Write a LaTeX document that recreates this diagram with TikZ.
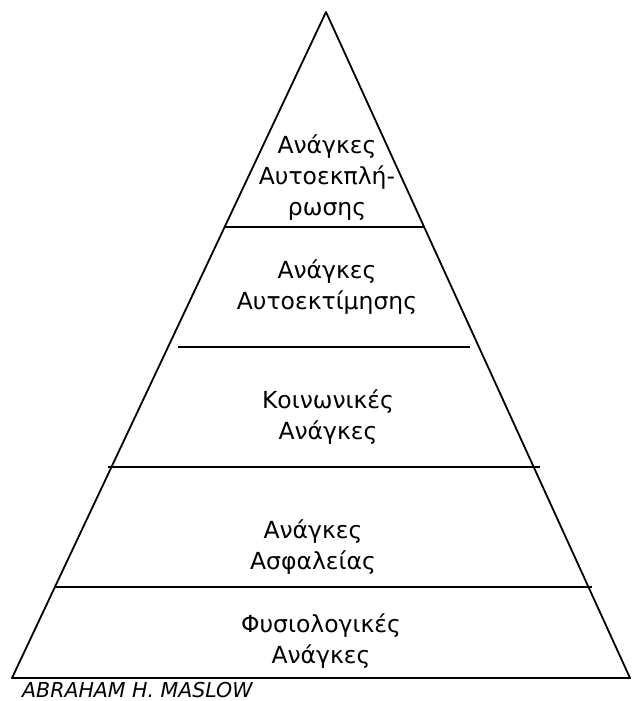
\documentclass[tikz,border=0pt]{standalone}
\usepackage{fontspec}
\setmainfont{DejaVu Sans}

\tikzset{
  level/.style={align=center, font=\fontsize{23.5}{31}\selectfont},
  edge/.style={line width=1.8pt}
}

\begin{document}
\begin{tikzpicture}[x=1pt,y=-1pt]
    \useasboundingbox (0,0) rectangle (632,701);
    \coordinate (top) at (326,12); \coordinate (bl) at (12,678); \coordinate (br) at (630,678);
    \draw[edge, line join=round] (bl) -- (top) -- (br) -- cycle;
    \draw[edge] (225,227) -- (424,227); \draw[edge] (178,347) -- (470,347);
    \draw[edge] (108,467) -- (540,467); \draw[edge] (55,587) -- (592,587);
    \node[level] (selfact) at (327,178) {Ανάγκες\\Αυτοεκπλή-\\ρωσης};
    \node[level] (esteem) at (327,287) {Ανάγκες\\Αυτοεκτίμησης};
    \node[level] (social) at (328,417) {Κοινωνικές\\Ανάγκες};
    \node[level] (safety) at (313,547) {Ανάγκες\\Ασφαλείας};
    \node[level] (physio) at (321,641) {Φυσιολογικές\\Ανάγκες};
    \node[anchor=base west, font=\fontsize{20.5}{22}\selectfont\itshape, inner sep=0pt] (author) at (22,697) {ABRAHAM H. MASLOW};
  \end{tikzpicture}
\end{document}
